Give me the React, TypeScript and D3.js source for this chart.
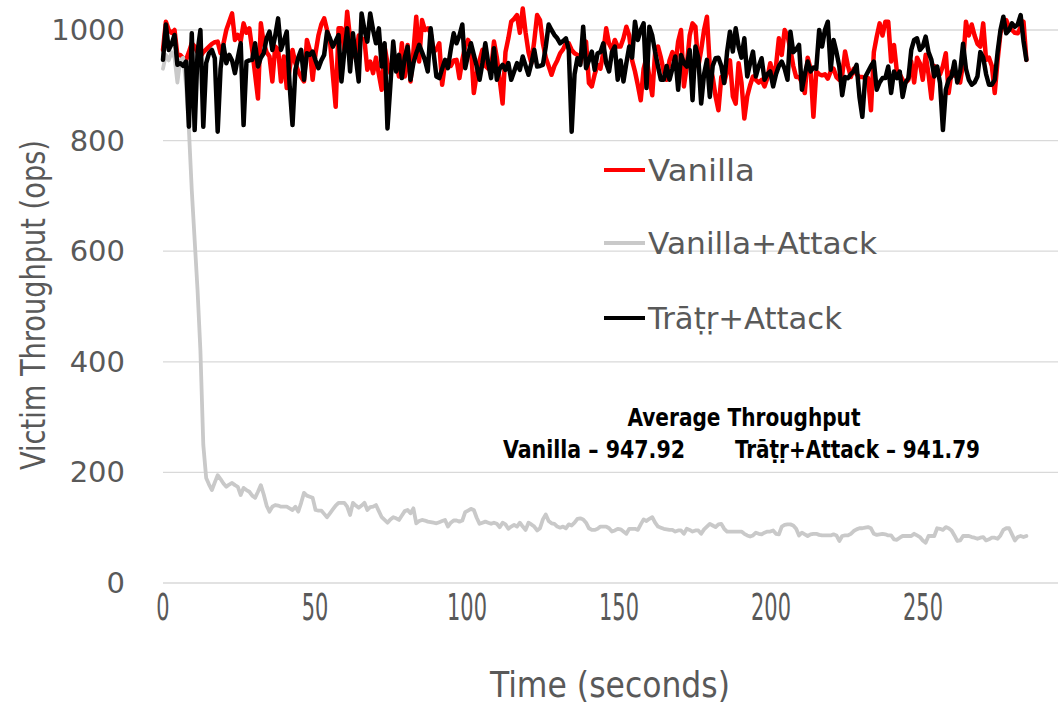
import React from "react";
import * as d3 from "d3";

// Victim throughput per sample (ops)
const vanilla = [
  964, 1015, 1000, 995, 1000, 955, 955, 949, 946, 960,
  976, 970, 960, 952, 960, 965, 970, 975, 978, 979,
  958, 975, 1000, 1015, 1030, 982, 991, 980, 1012, 995,
  1003, 964, 920, 876, 1012, 976, 960, 952, 907, 970,
  965, 907, 952, 895, 930, 964, 940, 925, 915, 907,
  982, 964, 910, 958, 990, 1010, 1021, 1000, 982, 920,
  861, 1003, 1003, 964, 1033, 985, 960, 949, 990, 985,
  982, 928, 943, 922, 950,
  920, 892, 970, 940, 922, 950, 940, 916, 976, 916,
  973, 907, 960, 1024, 943, 1018, 1000, 1003, 995, 960,
  965, 976, 901, 940, 945, 935, 945, 946, 913, 946,
  970, 982, 970, 886, 920, 945, 964, 935, 930, 928,
  979, 950, 910, 867, 960, 985, 1015, 1020, 1027, 995,
  1039, 995, 960, 940, 980, 1027, 1018, 976, 950, 935,
  919, 935, 945, 958, 965, 976, 976, 964, 958, 955,
  940, 960, 979, 904, 898, 920, 937,
  930, 960, 1003, 975, 965, 982, 970, 970, 985, 1006,
  990, 945, 925, 900, 873, 930, 950, 915, 882, 960,
  970, 950, 925, 910, 945, 960, 935, 979, 1000, 898,
  935, 990, 1012, 1006, 934, 964, 1000, 1024, 934, 915,
  880, 855, 915, 905, 925, 945, 880, 867, 940, 905,
  840, 880, 900, 916, 910, 905, 910, 898, 913, 940,
  920, 935, 985, 955, 1000, 990, 965, 935, 915, 915,
  905, 886, 950, 930, 843, 925,
  920, 918, 920, 912, 925, 930, 915, 910, 918, 961,
  935, 915, 930, 920, 915, 915, 913, 913, 855, 960,
  988, 1012, 990, 1015, 1015, 943, 973, 925, 920, 910,
  905, 910, 943, 905, 950, 940, 910, 955, 920, 876,
  935, 925, 920, 935, 958, 886, 925, 918, 915, 905,
  940, 1015, 990, 1010, 990, 975, 970, 1012, 946, 950,
  935, 886, 945, 995, 1010, 1018, 1005, 1000, 995, 994,
  1005, 1015, 946,
];

const vanillaAttack = [
  930, 955, 945, 960, 950, 905, 945, 950, 900, 820,
  710, 620, 530, 420, 250, 190, 178, 168, 182, 195,
  188, 180, 174, 178, 181, 177, 174, 159, 172, 168,
  165, 158, 154, 165, 177, 160, 140, 129, 138, 141,
  140, 138, 138, 138, 135, 132, 138, 129, 145, 163,
  158, 156, 154, 132, 131, 131, 125, 119, 126, 133,
  140, 145, 145, 145, 138, 123, 145, 140, 136, 140,
  145, 132, 137, 138, 141, 130, 119, 114, 109, 115,
  119, 117, 114, 122, 130, 132, 126, 135, 108, 112,
  114, 113, 111, 110, 109, 108, 110, 112, 114, 102,
  109, 113, 113, 111, 113, 128, 131, 134, 132, 118,
  107, 109, 111, 109, 107, 109, 107, 101, 109, 106,
  98, 102, 105, 102, 109, 102, 96, 109, 106, 102,
  95, 99, 115, 124, 112, 108, 107, 102, 100, 102,
  99, 106, 104, 109, 116, 117, 115, 109, 99, 96,
  96, 98, 102, 102, 102, 99, 93, 95, 98, 97,
  93, 89, 98, 98, 98, 96, 106, 115, 112, 116,
  119, 109, 102, 100, 98, 97, 96, 96, 93, 95,
  95, 89, 98, 96, 93, 95, 95, 89, 97, 102,
  107, 104, 101, 106, 107, 98, 93, 93, 93, 93,
  93, 93, 89, 86, 84, 86, 91, 89, 88, 91,
  93, 93, 95, 89, 88, 102, 105, 106, 106, 104,
  98, 86, 91, 88, 85, 88, 89, 89, 87, 86,
  86, 86, 86, 88, 86, 76, 85, 86, 86, 89,
  94, 97, 99, 99, 100, 101, 99, 89, 87, 88,
  89, 88, 86, 86, 79, 78, 82, 85, 85, 85,
  85, 89, 86, 83, 77, 73, 85, 85, 85, 99,
  98, 96, 101, 99, 95, 86, 76, 77, 85, 85,
  85, 83, 82, 80, 82, 83, 77, 79, 82, 82,
  80, 86, 96, 99, 99, 88, 77, 83, 85, 83,
  85,
];

const tratrAttack = [
  946, 1010, 964, 975, 991, 937, 940, 935, 943, 825,
  994, 819, 960, 1000, 825, 940, 958, 964, 949, 816,
  930, 973, 940, 955, 945, 922, 950, 976, 828, 943,
  945, 946, 976, 934, 950, 958, 985, 997, 964, 990,
  1021, 964, 980, 997, 900, 828, 928, 950, 964, 910,
  958, 955, 961, 945, 931, 945, 955, 997, 985, 970,
  980, 991, 907, 960, 1003, 925, 994, 950, 907, 1030,
  1000, 979, 1030, 1000, 976,
  1003, 934, 976, 822, 900, 979, 925, 955, 913, 950,
  970, 910, 940, 958, 973, 960, 946, 925, 1003, 960,
  916, 913, 930, 946, 931, 965, 994, 976, 990, 1010,
  931, 955, 976, 955, 935, 910, 940, 976, 940, 913,
  967, 910, 930, 937, 928, 940, 910, 925, 940, 928,
  952, 935, 919, 940, 964, 934, 935, 937, 970, 1010,
  1000, 991, 985, 976, 980, 985, 964, 816, 920, 949,
  937, 1006, 931, 945, 961, 928, 958,
  960, 976, 940, 925, 960, 970, 910, 945, 907, 940,
  970, 950, 1015, 982, 1000, 1012, 895, 1006, 990, 960,
  934, 910, 910, 935, 910, 930, 952, 892, 955, 940,
  934, 964, 873, 970, 950, 867, 920, 946, 879, 935,
  949, 950, 935, 904, 960, 997, 961, 1003, 970, 950,
  985, 916, 940, 961, 916, 935, 949, 910, 920, 925,
  898, 920, 935, 943, 930, 910, 997, 960, 965, 973,
  892, 920, 943, 925, 932, 930,
  1000, 970, 1000, 1015, 928, 982, 960, 934, 882, 915,
  913, 920, 925, 937, 879, 843, 915, 925, 935, 943,
  892, 905, 913, 913, 934, 886, 925, 913, 925, 879,
  905, 913, 964, 982, 985, 964, 970, 988, 960, 946,
  916, 934, 904, 819, 892, 910, 916, 943, 905, 925,
  975, 930, 910, 901, 905, 916, 960, 950, 920, 901,
  901, 910, 960, 1000, 1024, 994, 1000, 1012, 1006, 1010,
  1027, 980, 946,
];

const xTicks = [0, 50, 100, 150, 200, 250];
const yTicks = [0, 200, 400, 600, 800, 1000];

// 301 samples over the 284 s run
const runSeconds = 284;

const series = [
  { name: "Vanilla", values: vanilla, color: "#FF0000", width: 4.5 },
  { name: "Vanilla+Attack", values: vanillaAttack, color: "#C9C9C9", width: 3.8 },
  { name: "Trāṭṛ+Attack", values: tratrAttack, color: "#000000", width: 4.5 },
];

const W = 1061;
const H = 705;
const plot = { left: 163, right: 1058, top: 30, bottom: 583 };
const axisGrey = "#595959";
const narrow = "'Liberation Sans Narrow', 'DejaVu Sans Condensed', 'Liberation Sans', sans-serif";
const wide = "'DejaVu Sans', Verdana, sans-serif";

export default function App() {
  const x = d3.scaleLinear().domain([0, 294.4]).range([plot.left, plot.right]);
  const y = d3.scaleLinear().domain([0, 1000]).range([plot.bottom, plot.top]);

  const line = (values: number[]) => {
    const step = runSeconds / (values.length - 1);
    return d3
      .line<number>()
      .x((_, i) => x(i * step))
      .y((d) => y(d))(values);
  };

  const legendRows = [
    { label: "Vanilla", color: "#FF0000", cy: 170, len: 107 },
    { label: "Vanilla+Attack", color: "#C9C9C9", cy: 243, len: 229 },
    { label: "Trāṭṛ+Attack", color: "#000000", cy: 318, len: 194 },
  ];

  return (
    <>
      <style>{`body{margin:0}`}</style>
      <svg width={W} height={H} viewBox={`0 0 ${W} ${H}`} style={{ display: "block", background: "#fff" }}>
        {/* gridlines */}
        {yTicks.map((t) => (
          <line key={t} x1={plot.left} x2={plot.right} y1={y(t)} y2={y(t)} stroke="#D9D9D9" strokeWidth={1.3} />
        ))}

        {/* y tick labels */}
        {yTicks.map((t) => (
          <text
            key={t}
            x={125}
            y={y(t)}
            textAnchor="end"
            dominantBaseline="central"
            fontFamily={wide}
            fontSize={29}
            fill={axisGrey}
          >
            {t}
          </text>
        ))}

        {/* x tick labels */}
        {xTicks.map((t) => (
          <text
            key={t}
            x={x(t)}
            y={607}
            textAnchor="middle"
            dominantBaseline="central"
            fontFamily={narrow}
            fontSize={37}
            fill={axisGrey}
            textLength={String(t).length * 13.3}
            lengthAdjust="spacingAndGlyphs"
          >
            {t}
          </text>
        ))}

        {/* axis titles */}
        <text
          x={610}
          y={697}
          textAnchor="middle"
          fontFamily={narrow}
          fontSize={36}
          fill={axisGrey}
          textLength={240}
          lengthAdjust="spacingAndGlyphs"
        >
          Time (seconds)
        </text>
        <text
          transform="translate(45,305) rotate(-90)"
          textAnchor="middle"
          fontFamily={narrow}
          fontSize={34}
          fill={axisGrey}
          textLength={330}
          lengthAdjust="spacingAndGlyphs"
        >
          Victim Throughput (ops)
        </text>

        {/* series */}
        {series.map((s) => (
          <path
            key={s.name}
            d={line(s.values) ?? ""}
            fill="none"
            stroke={s.color}
            strokeWidth={s.width}
            strokeLinejoin="round"
            strokeLinecap="round"
          />
        ))}

        {/* legend */}
        {legendRows.map((r) => (
          <g key={r.label}>
            <line x1={604} x2={645} y1={r.cy} y2={r.cy} stroke={r.color} strokeWidth={4} />
            <text
              x={648}
              y={r.cy}
              dominantBaseline="central"
              fontFamily={wide}
              fontSize={31}
              fill={axisGrey}
              textLength={r.len}
              lengthAdjust="spacingAndGlyphs"
            >
              {r.label}
            </text>
          </g>
        ))}

        {/* annotation */}
        <g fontFamily={narrow} fontWeight="bold" fontSize={24} fill="#000">
          <text x={744} y={426} textAnchor="middle" textLength={233} lengthAdjust="spacingAndGlyphs">
            Average Throughput
          </text>
          <text x={503} y={458} textLength={182} lengthAdjust="spacingAndGlyphs">
            Vanilla – 947.92
          </text>
          <text x={735} y={458} textLength={245} lengthAdjust="spacingAndGlyphs">
            Trāṭṛ+Attack – 941.79
          </text>
        </g>
      </svg>
    </>
  );
}
